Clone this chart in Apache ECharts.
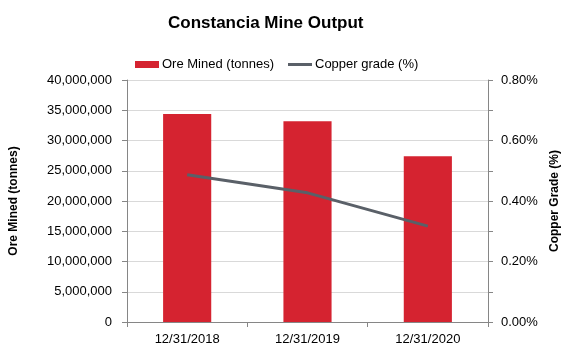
<!DOCTYPE html>
<html><head><meta charset="utf-8">
<script src="https://cdn.jsdelivr.net/npm/echarts@6/dist/echarts.min.js"></script>
<style>html,body{margin:0;padding:0;background:#fff}#c{width:569px;height:356px}</style>
</head><body><div id="c"></div>
<script>
const categories = ['12/31/2018', '12/31/2019', '12/31/2020'];
const oreMined = [34400000, 33200000, 27400000];
const copperGrade = [0.487, 0.427, 0.317];
const leftTicks = [0, 5000000, 10000000, 15000000, 20000000, 25000000, 30000000, 35000000, 40000000];
const rightTicks = [0, 0.2, 0.4, 0.6, 0.8];

const font = 'Liberation Sans, Arial, sans-serif';
const chart = echarts.init(document.getElementById('c'), null, {renderer: 'canvas'});
chart.setOption({
  animation: false,
  backgroundColor: '#fff',
  title: {text: 'Constancia Mine Output', left: 163, top: 10,
    textStyle: {fontFamily: font, fontSize: 17, fontWeight: 'bold', color: '#000'}},
  legend: {top: 53, left: 130, itemGap: 14, itemWidth: 24, itemHeight: 7,
    textStyle: {fontFamily: font, fontSize: 13, color: '#000', padding: [0, 0, 0, -2]},
    data: [{name: 'Ore Mined (tonnes)', icon: 'rect'},
           {name: 'Copper grade (%)', icon: 'path://M0,0 L24,0 L24,3 L0,3 Z', itemStyle: {color: '#5a6068'}}]},
  grid: {left: 127, right: 79, top: 80, bottom: 34},
  xAxis: {type: 'category', data: categories,
    axisLine: {lineStyle: {color: '#868686'}},
    axisTick: {show: true, alignWithLabel: false, length: 5, lineStyle: {color: '#868686'}},
    axisLabel: {fontFamily: font, fontSize: 13, color: '#000', margin: 11}},
  yAxis: [{type: 'value', min: 0, max: 40000000, interval: 5000000,
    name: 'Ore Mined (tonnes)', nameLocation: 'middle', nameGap: 107, nameRotate: 90,
    nameTextStyle: {fontFamily: font, fontSize: 12, fontWeight: 'bold', color: '#000'},
    axisLine: {show: true, lineStyle: {color: '#868686'}},
    axisTick: {show: true, length: 5, lineStyle: {color: '#868686'}},
    axisLabel: {fontFamily: font, fontSize: 13, color: '#000', margin: 15,
      formatter: v => leftTicks.includes(v) ? v.toLocaleString('en-US') : ''},
    splitLine: {lineStyle: {color: '#d9d9d9'}}},
   {type: 'value', min: 0, max: 0.8, interval: 0.1, position: 'right',
    name: 'Copper Grade (%)', nameLocation: 'middle', nameGap: 61, nameRotate: 90,
    nameTextStyle: {fontFamily: font, fontSize: 12, fontWeight: 'bold', color: '#000'},
    axisLine: {show: true, lineStyle: {color: '#868686'}},
    axisTick: {show: true, length: 5, interval: 1, lineStyle: {color: '#868686'}},
    axisLabel: {fontFamily: font, fontSize: 13, color: '#000', margin: 13,
      formatter: v => rightTicks.some(t => Math.abs(t - v) < 1e-9) ? v.toFixed(2) + '%' : ''},
    splitLine: {show: false}}],
  series: [
    {name: 'Ore Mined (tonnes)', type: 'bar', data: oreMined, barWidth: '40%',
     itemStyle: {color: '#d52330'}},
    {name: 'Copper grade (%)', type: 'line', yAxisIndex: 1, data: copperGrade,
     symbol: 'none', lineStyle: {color: '#5a6068', width: 3}, itemStyle: {color: '#5a6068'}}
  ]
});
</script></body></html>
